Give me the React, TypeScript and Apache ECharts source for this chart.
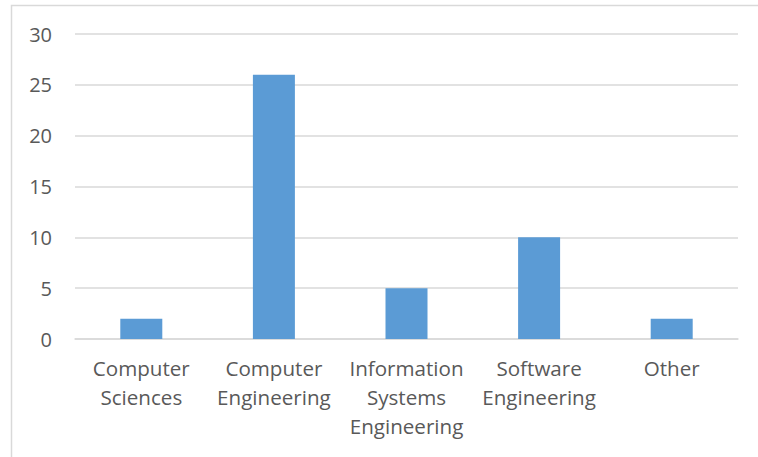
import React, { useEffect, useRef } from "react";
import * as echarts from "echarts";

const categories = [
  "Computer\nSciences",
  "Computer\nEngineering",
  "Information\nSystems\nEngineering",
  "Software\nEngineering",
  "Other",
];
const values = [2, 26, 5, 10, 2];
const yTicks = { min: 0, max: 30, interval: 5 };

export default function App() {
  const ref = useRef<HTMLDivElement>(null);
  useEffect(() => {
    if (!ref.current) return;
    const chart = echarts.init(ref.current, undefined, { renderer: "svg" });
    chart.setOption({
      animation: false,
      backgroundColor: "#ffffff",
      textStyle: { fontFamily: "Open Sans" },
      graphic: [
        {
          type: "rect",
          shape: { x: 11.5, y: 5.5, width: 800, height: 500 },
          style: { fill: "none", stroke: "#d9d9d9", lineWidth: 1.5 },
          silent: true,
        },
      ],
      grid: { left: 75, right: 20, top: 34, bottom: 118, containLabel: false },
      xAxis: {
        type: "category",
        data: categories,
        axisLine: { show: true, lineStyle: { color: "#d9d9d9", width: 1.5 } },
        axisTick: { show: false },
        axisLabel: {
          color: "#595959",
          fontSize: 20.6,
          fontFamily: "Open Sans",
          lineHeight: 29,
          margin: 14.5,
          interval: 0,
          align: "center",
        },
      },
      yAxis: {
        type: "value",
        min: yTicks.min,
        max: yTicks.max,
        interval: yTicks.interval,
        axisLine: { show: false },
        axisTick: { show: false },
        splitLine: { lineStyle: { color: "#d9d9d9", width: 1.5 } },
        axisLabel: {
          color: "#595959",
          fontSize: 20,
          fontFamily: "Open Sans",
          margin: 23,
        },
      },
      series: [
        {
          type: "bar",
          data: values,
          barWidth: 42,
          itemStyle: { color: "#5b9bd5" },
        },
      ],
    });
    return () => chart.dispose();
  }, []);
  return (
    <div
      ref={ref}
      style={{ position: "fixed", left: 0, top: 0, width: 758, height: 457 }}
    />
  );
}
